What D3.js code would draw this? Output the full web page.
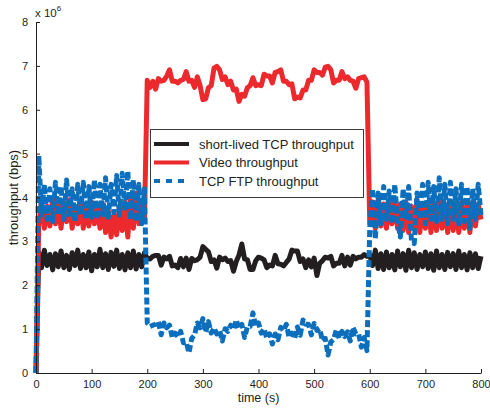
<!DOCTYPE html>
<html>
<head>
<meta charset="utf-8">
<script src="https://cdn.jsdelivr.net/npm/d3@7"></script>
<style>
  body { margin: 0; background: #fff; }
  svg { display: block; font-family: "Liberation Sans", Arial, sans-serif; }
</style>
</head>
<body>
<div id="chart"></div>
<script>
// sample times (s), one sample every 5 s
const time = d3.range(0, 801, 5);

// short-lived TCP throughput (x 10^6 bps)
const shortTcp = [
  0, 2.75, 2.4, 2.8, 2.45, 2.7, 2.35, 2.72, 2.42, 2.78,
  2.4, 2.68, 2.36, 2.74, 2.45, 2.8, 2.38, 2.7, 2.4, 2.76,
  2.33, 2.7, 2.42, 2.82, 2.4, 2.72, 2.36, 2.75, 2.43, 2.8,
  2.38, 2.7, 2.35, 2.74, 2.4, 2.78, 2.37, 2.7, 2.42, 2.74,
  2.61, 2.6, 2.66, 2.68, 2.68, 2.46, 2.64, 2.6, 2.66, 2.44,
  2.46, 2.4, 2.61, 2.42, 2.62, 2.36, 2.61, 2.56, 2.58, 2.64,
  2.88, 2.82, 2.76, 2.54, 2.58, 2.39, 2.64, 2.58, 2.62, 2.54,
  2.56, 2.32, 2.54, 2.69, 2.94, 2.6, 2.58, 2.36, 2.36, 2.56,
  2.64, 2.62, 2.58, 2.4, 2.46, 2.44, 2.68, 2.49, 2.48, 2.44,
  2.52, 2.6, 2.8, 2.78, 2.78, 2.54, 2.6, 2.4, 2.58, 2.42,
  2.62, 2.22, 2.5, 2.56, 2.64, 2.62, 2.66, 2.44, 2.5, 2.5,
  2.68, 2.44, 2.64, 2.46, 2.66, 2.6, 2.64, 2.64, 2.7, 2.66,
  2.7, 2.45, 2.8, 2.38, 2.72, 2.36, 2.76, 2.4, 2.7, 2.35,
  2.78, 2.42, 2.72, 2.34, 2.8, 2.4, 2.74, 2.36, 2.7, 2.42,
  2.76, 2.38, 2.72, 2.34, 2.78, 2.4, 2.7, 2.36, 2.75, 2.42,
  2.72, 2.36, 2.78, 2.4, 2.7, 2.35, 2.74, 2.4, 2.72, 2.38,
  2.66
];

// video throughput
const video = [
  0, 3.4, 3.9, 3.3, 3.8, 3.35, 4.0, 3.4, 3.85, 3.3,
  3.9, 3.45, 3.95, 3.3, 3.8, 3.4, 3.9, 3.3, 3.85, 3.35,
  3.9, 3.4, 3.8, 3.3, 3.85, 3.2, 3.7, 3.1, 3.6, 3.15,
  3.8, 3.25, 3.9, 3.1, 4.0, 3.3, 4.1, 3.4, 3.9, 3.5,
  6.67, 6.51, 6.65, 6.47, 6.71, 6.65, 6.67, 6.77, 6.91, 6.65,
  6.65, 6.61, 6.67, 6.69, 6.87, 6.65, 6.67, 6.51, 6.75, 6.55,
  6.23, 6.25, 6.5, 6.55, 6.95, 6.99, 6.91, 6.69, 6.75, 6.57,
  6.65, 6.45, 6.47, 6.19, 6.35, 6.31, 6.5, 6.55, 6.73, 6.55,
  6.57, 6.55, 6.81, 6.77, 6.77, 6.61, 6.85, 6.87, 6.91, 6.65,
  6.65, 6.57, 6.59, 6.25, 6.29, 6.27, 6.45, 6.45, 6.67, 6.67,
  6.91, 6.85, 6.85, 6.79, 6.97, 6.99, 6.91, 6.61, 6.67, 6.67,
  6.87, 6.71, 6.75, 6.67, 6.65, 6.49, 6.71, 6.73, 6.75, 6.63,
  3.4, 3.9, 3.3, 3.95, 3.35, 3.85, 3.3, 3.9, 3.4, 3.95,
  3.3, 3.85, 3.25, 3.9, 3.2, 3.8, 3.3, 3.95, 3.2, 3.85,
  3.3, 3.9, 3.2, 3.85, 3.25, 3.95, 3.3, 3.85, 3.2, 3.9,
  3.25, 3.85, 3.2, 3.9, 3.3, 3.8, 3.2, 3.9, 3.35, 3.85,
  3.5
];

// TCP FTP throughput
const ftp = [
  0, 4.95, 3.6, 4.3, 3.5, 4.2, 3.45, 4.35, 3.6, 4.25,
  3.5, 4.4, 3.55, 4.2, 3.45, 4.3, 3.6, 4.35, 3.5, 4.25,
  3.55, 4.4, 3.5, 4.3, 3.6, 4.45, 3.55, 4.3, 3.65, 4.5,
  3.6, 4.55, 3.7, 4.6, 3.5, 4.4, 3.45, 4.3, 3.4, 4.2,
  1.14, 1.06, 1.09, 1.11, 1.17, 0.87, 1.14, 1.03, 1.09, 0.81,
  0.91, 0.83, 0.95, 0.69, 0.71, 0.46, 0.79, 0.86, 1.14, 1.03,
  1.24, 0.93, 1.17, 0.91, 1.03, 0.89, 0.97, 0.73, 1.01, 0.95,
  1.09, 0.99, 1.21, 1.01, 1.11, 0.81, 1.05, 1.06, 1.37, 1.06,
  1.14, 0.91, 1.01, 0.79, 0.89, 0.66, 0.89, 0.76, 1.04, 0.96,
  1.11, 0.81, 0.91, 0.79, 1.05, 0.86, 1.21, 1.11, 1.11, 0.87,
  1.13, 0.97, 1.01, 0.73, 0.79, 0.41, 0.71, 0.76, 0.99, 0.79,
  0.95, 0.83, 0.94, 0.73, 1.04, 0.89, 0.89, 0.59, 0.81, 0.51,
  3.3, 4.2, 3.05, 4.1, 3.4, 4.25, 3.5, 4.15, 3.4, 4.3,
  3.45, 3.1, 4.2, 3.5, 4.25, 3.0, 2.95, 4.1, 3.5, 4.3,
  3.4, 4.35, 3.5, 4.25, 3.45, 4.45, 3.5, 4.3, 3.4, 4.35,
  3.5, 4.2, 3.4, 4.3, 3.45, 4.25, 3.3, 4.2, 3.5, 4.3,
  3.6
];

const xTicks = [0, 100, 200, 300, 400, 500, 600, 700, 800];
const yTicks = [0, 1, 2, 3, 4, 5, 6, 7, 8];

const series = [
  { name: "short-lived TCP throughput", values: shortTcp, color: "#231f20", dash: null },
  { name: "Video throughput", values: video, color: "#ec2a2d", dash: null },
  { name: "TCP FTP throughput", values: ftp, color: "#0b6fbe", dash: "7,3" }
];

const width = 490, height = 408;
const x = d3.scaleLinear().domain([0, 800]).range([36, 481]);
const y = d3.scaleLinear().domain([0, 8]).range([373, 22]);

const svg = d3.select("#chart").append("svg")
    .attr("width", width)
    .attr("height", height);

const line = d3.line()
    .x((d, i) => x(time[i]))
    .y(d => y(d));

// draw data
svg.append("g").selectAll("path")
  .data(series)
  .join("path")
    .attr("d", s => line(s.values))
    .attr("fill", "none")
    .attr("stroke", s => s.color)
    .attr("stroke-width", 5)
    .attr("stroke-linejoin", "round")
    .attr("stroke-dasharray", s => s.dash);

// axes (ticks inside, no box)
const xAxis = svg.append("g")
    .attr("transform", `translate(0,${y(0)})`)
    .call(d3.axisBottom(x).tickValues(xTicks).tickSizeInner(-4).tickSizeOuter(0).tickPadding(7));
const yAxis = svg.append("g")
    .attr("transform", `translate(${x(0)},0)`)
    .call(d3.axisLeft(y).tickValues(yTicks).tickSizeInner(-4).tickSizeOuter(0).tickPadding(8));

[xAxis, yAxis].forEach(g => {
  g.selectAll("path, line").attr("stroke", "#231f20");
  g.selectAll("text").attr("font-size", 11).attr("fill", "#231f20")
    .attr("font-family", "Liberation Sans, Arial, sans-serif");
});

// x 10^6 multiplier
const mult = svg.append("text")
    .attr("x", 35).attr("y", 17)
    .attr("font-size", 11.5).attr("fill", "#231f20");
mult.append("tspan").text("x 10");
mult.append("tspan").attr("dy", -6).attr("font-size", 8).text("6");

// axis labels
svg.append("text")
    .attr("x", (x(0) + x(800)) / 2).attr("y", 402)
    .attr("text-anchor", "middle")
    .attr("font-size", 12.5).attr("fill", "#231f20")
    .text("time (s)");
svg.append("text")
    .attr("transform", `translate(18,${(y(0) + y(8)) / 2}) rotate(-90)`)
    .attr("text-anchor", "middle")
    .attr("font-size", 13).attr("fill", "#231f20")
    .text("throughput (bps)");

// legend
const legend = svg.append("g").attr("transform", "translate(150,129)");
legend.append("rect")
    .attr("x", 0.5).attr("y", 0.5)
    .attr("width", 213).attr("height", 68)
    .attr("fill", "#fff").attr("stroke", "#3a3a3a").attr("stroke-width", 1);
const item = legend.selectAll("g.item")
  .data(series)
  .join("g")
    .attr("class", "item")
    .attr("transform", (d, i) => `translate(0,${15 + i * 18.5})`);
item.append("line")
    .attr("x1", 4).attr("x2", 39)
    .attr("stroke", d => d.color)
    .attr("stroke-width", 4)
    .attr("stroke-dasharray", d => d.dash ? "6,6" : null);
item.append("text")
    .attr("x", 49).attr("y", 4.5)
    .attr("font-size", 13).attr("fill", "#231f20")
    .text(d => d.name);
</script>
</body>
</html>
